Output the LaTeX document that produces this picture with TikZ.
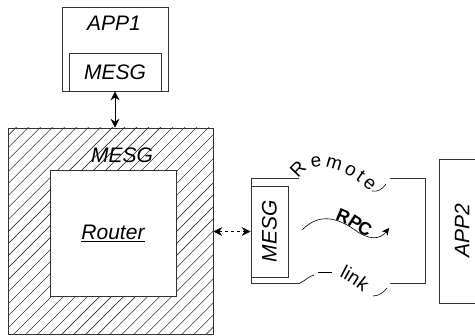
\documentclass[tikz,border=0pt]{standalone}
\usepackage{fontspec}
\setmainfont{Liberation Sans}
\usetikzlibrary{arrows.meta,patterns.meta,decorations.text}
\newcommand\pathfont{\fontsize{19}{22}\selectfont}
\newcommand\rpcfont{\bfseries\fontsize{18}{20}\selectfont}

\begin{document}
\begin{tikzpicture}[x=1pt, y=1pt, line width=0.8pt,
        box/.style = {draw=black!80, inner sep=0pt},
        lbl/.style = {font=\itshape\fontsize{21}{24}\selectfont},
        >={Stealth[length=9pt,width=9pt,inset=3pt]}]
        \useasboundingbox (0,0) rectangle (475,-336);

        % APP1 with its MESG
        \node[box, minimum width=106pt, minimum height=84pt] (app1) at (115,-49) {};
        \node[lbl] at (114,-23) {APP1};
        \node[box, lbl, minimum width=92pt, minimum height=38pt] (mesg1) at (115,-72) {MESG};

        % Hatched MESG around the router
        \node[box, pattern={Lines[angle=45,distance=8.5pt,line width=0.6pt]}, pattern color=black!80,
              minimum width=205pt, minimum height=206pt] (router) at (110.5,-231) {};
        \node[lbl] at (122,-155) {MESG};
        \node[box, fill=white, lbl, minimum width=126pt, minimum height=126pt] (core) at (113,-233) {\underline{Router}};

        % Remote MESG
        \node[box, minimum width=37pt, minimum height=91pt] (mesg2) at (269.5,-231.5)
            {\rotatebox{90}{\itshape\fontsize{21}{24}\selectfont MESG}};

        % APP2
        \node[box, minimum width=40pt, minimum height=144pt] (app2) at (459,-231) {};
        \node[lbl, rotate=90] at ([xshift=3pt]app2.center) {APP2};

        % Connectors
        \draw[<->] (mesg1.south) -- (mesg1.south |- router.north);
        \draw[<->, dashed, line width=0.6pt] (router.east |- mesg2.west) -- (mesg2.west);

        % Remote link outline
        \draw[black!80] (299,-178) -- (251,-178) -- (251,-283) -- (300,-283);
        \draw[black!80] (390,-178) -- (425,-178) -- (425,-283) -- (390,-283);
        \path[decorate, decoration={text along path, text align={fit to path},
              text={|\pathfont|Remote}}]
            (299,-179) .. controls (306,-162) and (336,-160) .. (370,-192);
        \draw[line width=0.6pt] (372,-191) .. controls (377,-192) and (382,-190) .. (386,-184);
        \draw[line width=0.6pt] (300,-283) .. controls (305,-281) and (309,-276) .. (314,-275);
        \draw[line width=0.6pt] (318,-272) -- (332,-272);
        \path[decorate, decoration={text along path, text align=left,
              text={|\pathfont|link}}]
            (339,-277) .. controls (349,-282) and (358,-288) .. (368,-297);
        \draw[line width=0.6pt] (373,-296) .. controls (379,-296) and (384,-292) .. (387,-288);

        % RPC
        \draw[->, line width=0.6pt, >={Stealth[length=7pt,width=7pt,inset=2pt]},
              postaction={decorate, decoration={text along path, text align={left indent=36pt},
              text={|\rpcfont|RPC}}}]
            (302,-230) .. controls (318,-214) and (335,-216) .. (355,-230)
            .. controls (368,-240) and (380,-240) .. (389,-228);
    \end{tikzpicture}
\end{document}
